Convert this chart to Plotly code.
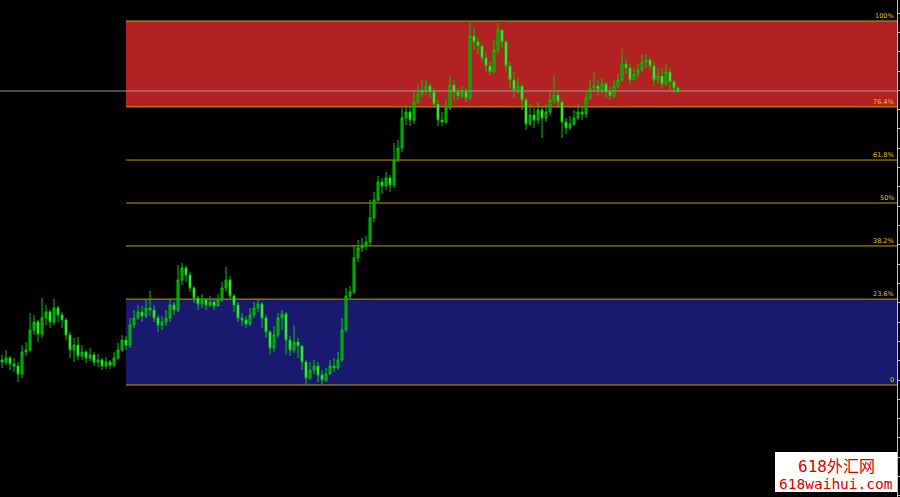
import plotly.graph_objects as go

# ---------------- data (price points) ----------------
bar_index = list(range(170))

opens = [1025,
    1023,1027,1021,1019,1011,1033,1035,1055,1063,1051,
    1067,1073,1063,1077,1070,1065,1050,1035,1040,1029,
    1033,1027,1030,1023,1025,1019,1023,1020,1027,1035,
    1045,1040,1060,1067,1073,1069,1077,1075,1067,1060,
    1063,1067,1080,1075,1105,1117,1110,1097,1087,1081,
    1085,1080,1083,1079,1085,1097,1105,1089,1080,1067,
    1065,1061,1070,1077,1081,1067,1053,1037,1050,1067,
    1071,1045,1035,1043,1039,1023,1007,1015,1019,1010,
    1005,1011,1019,1017,1025,1055,1089,1093,1127,1137,
    1140,1143,1167,1185,1203,1199,1207,1200,1225,1237,
    1267,1273,1265,1283,1291,1295,1299,1293,1281,1265,
    1263,1277,1300,1293,1289,1293,1287,1349,1343,1339,
    1327,1319,1313,1335,1355,1343,1319,1305,1295,1299,
    1285,1261,1270,1265,1275,1267,1273,1285,1290,1283,
    1263,1257,1261,1267,1273,1271,1287,1297,1299,1295,
    1301,1293,1289,1299,1305,1321,1317,1305,1311,1315,
    1323,1325,1319,1305,1309,1301,1313,1303,1297]

closes = [
    1023,1027,1021,1019,1011,1033,1035,1055,1063,1051,
    1067,1073,1063,1077,1070,1065,1050,1035,1040,1029,
    1033,1027,1030,1023,1025,1019,1023,1020,1027,1035,
    1045,1040,1060,1067,1073,1069,1077,1075,1067,1060,
    1063,1067,1080,1075,1105,1117,1110,1097,1087,1081,
    1085,1080,1083,1079,1085,1097,1105,1089,1080,1067,
    1065,1061,1070,1077,1081,1067,1053,1037,1050,1067,
    1071,1045,1035,1043,1039,1023,1007,1015,1019,1010,
    1005,1011,1019,1017,1025,1055,1089,1093,1127,1137,
    1140,1143,1167,1185,1203,1199,1207,1200,1225,1237,
    1267,1273,1265,1283,1291,1295,1299,1293,1281,1265,
    1263,1277,1300,1293,1289,1293,1287,1349,1343,1339,
    1327,1319,1313,1335,1355,1343,1319,1305,1295,1299,
    1285,1261,1270,1265,1275,1267,1273,1285,1290,1283,
    1263,1257,1261,1267,1273,1271,1287,1297,1299,1295,
    1301,1293,1289,1299,1305,1321,1317,1305,1311,1315,
    1323,1325,1319,1305,1309,1301,1313,1303,1297,1294]

highs = [
    1030,1035,1029,1027,1023,1040,1043,1072,1070,1065,
    1087,1080,1075,1086,1079,1073,1067,1053,1047,1048,
    1040,1035,1037,1033,1031,1027,1028,1025,1033,1042,
    1050,1049,1067,1075,1080,1079,1085,1094,1080,1070,
    1069,1075,1085,1083,1120,1122,1119,1113,1099,1089,
    1091,1087,1089,1087,1091,1103,1118,1109,1091,1083,
    1072,1069,1077,1083,1085,1083,1070,1055,1059,1072,
    1075,1073,1049,1060,1047,1040,1025,1023,1025,1023,
    1015,1017,1025,1027,1033,1067,1097,1099,1140,1145,
    1147,1149,1185,1193,1209,1207,1213,1210,1242,1245,
    1277,1280,1279,1293,1301,1305,1305,1301,1297,1285,
    1273,1285,1309,1305,1297,1299,1297,1363,1357,1347,
    1341,1333,1323,1345,1362,1355,1345,1323,1313,1307,
    1301,1287,1281,1277,1283,1279,1281,1295,1310,1295,
    1285,1267,1269,1275,1281,1279,1293,1305,1313,1305,
    1307,1303,1299,1305,1311,1336,1327,1321,1317,1321,
    1331,1331,1327,1323,1317,1317,1321,1317,1305,1299]

lows = [
    1017,1020,1015,1013,1003,1007,1029,1033,1050,1043,
    1047,1060,1057,1060,1063,1057,1045,1027,1023,1025,
    1025,1022,1024,1019,1018,1015,1016,1016,1018,1025,
    1033,1035,1037,1057,1065,1063,1067,1069,1063,1053,
    1055,1059,1063,1070,1073,1100,1103,1093,1082,1075,
    1077,1075,1078,1075,1079,1083,1093,1085,1073,1063,
    1059,1057,1059,1067,1073,1057,1047,1030,1033,1047,
    1055,1030,1029,1032,1027,1015,1000,1005,1011,1003,
    1001,1003,1013,1013,1015,1023,1053,1085,1091,1123,
    1133,1135,1139,1163,1183,1191,1195,1193,1197,1223,
    1233,1260,1259,1261,1281,1287,1290,1287,1277,1259,
    1259,1261,1275,1285,1285,1287,1283,1285,1335,1331,
    1323,1313,1309,1313,1331,1337,1313,1297,1287,1291,
    1275,1255,1259,1257,1261,1247,1263,1269,1281,1277,
    1247,1251,1255,1259,1265,1265,1267,1285,1293,1289,
    1291,1287,1285,1287,1297,1303,1311,1301,1305,1307,
    1313,1317,1315,1299,1301,1297,1299,1295,1292,1292]

fib_low = 1000
fib_high = 1364
fib_start = 31
fib_levels = [0.0, 0.236, 0.382, 0.5, 0.618, 0.764, 1.0]
fib_labels = ["0", "23.6%", "38.2%", "50%", "61.8%", "76.4%", "100%"]
current_price = 1294

watermark_lines = ["618外汇网", "618waihui.com"]

# ---------------- figure ----------------
X_MAX = 223.75
fig = go.Figure()

fig.add_trace(go.Candlestick(
    x=bar_index, open=opens, high=highs, low=lows, close=closes,
    increasing=dict(line=dict(color="#00C800", width=1), fillcolor="#008C00"),
    decreasing=dict(line=dict(color="#00C800", width=1), fillcolor="#98F598"),
    whiskerwidth=0, showlegend=False, hoverinfo="skip"))

def lvl(f):
    return fib_low + f * (fib_high - fib_low)

shapes = []
shapes.append(dict(type="rect", xref="x", yref="y", x0=fib_start, x1=X_MAX,
                   y0=lvl(0.764), y1=lvl(1.0), fillcolor="#B22222",
                   line=dict(width=0), layer="below"))
shapes.append(dict(type="rect", xref="x", yref="y", x0=fib_start, x1=X_MAX,
                   y0=lvl(0.0), y1=lvl(0.236), fillcolor="#191970",
                   line=dict(width=0), layer="below"))
annotations = []
for f, lab in zip(fib_levels, fib_labels):
    shapes.append(dict(type="line", xref="x", yref="y", x0=fib_start, x1=X_MAX,
                       y0=lvl(f), y1=lvl(f), line=dict(color="#C49C12", width=1),
                       layer="below"))
    annotations.append(dict(x=1, xref="paper", y=lvl(f), yref="y", text=lab,
                            showarrow=False, xanchor="right", yanchor="bottom",
                            xshift=-1, yshift=-1,
                            font=dict(family="DejaVu Sans", size=6.5, color="#E6C000")))
shapes.append(dict(type="line", xref="paper", yref="y", x0=0, x1=1,
                   y0=current_price, y1=current_price,
                   line=dict(color="#9A9A9A", width=1), layer="above"))
shapes.append(dict(type="rect", xref="paper", yref="paper", x0=0.864, x1=1.0,
                   y0=0.01, y1=0.0905, fillcolor="#FFFFFF",
                   line=dict(width=0), layer="above"))
annotations.append(dict(x=0.932, xref="paper", y=0.061, yref="paper",
                        text=watermark_lines[0], showarrow=False,
                        xanchor="center", yanchor="middle",
                        font=dict(family="DejaVu Sans Mono, Noto Sans CJK SC", size=16, color="#E00000")))
annotations.append(dict(x=0.932, xref="paper", y=0.026, yref="paper",
                        text=watermark_lines[1], showarrow=False,
                        xanchor="center", yanchor="middle",
                        font=dict(family="DejaVu Sans Mono", size=14.5, color="#E00000")))

fig.update_layout(
    width=900, height=497,
    margin=dict(l=0, r=3, t=0, b=0),
    paper_bgcolor="#000000", plot_bgcolor="#000000",
    showlegend=False,
    shapes=shapes, annotations=annotations,
    xaxis=dict(visible=False, range=[-0.5, X_MAX], rangeslider=dict(visible=False),
               fixedrange=True),
    yaxis=dict(side="right", range=[888, 1385], showgrid=False, zeroline=False,
               showticklabels=False, ticks="outside", ticklen=3, tickcolor="#C0C0C0",
               tick0=1005, dtick=19.31, showline=True, linecolor="#C0C0C0",
               linewidth=1, fixedrange=True),
)

fig.write_html("out.html", config={"displayModeBar": False},
               post_script="document.body.style.margin='0';document.body.style.background='#000';document.body.style.overflow='hidden';")
